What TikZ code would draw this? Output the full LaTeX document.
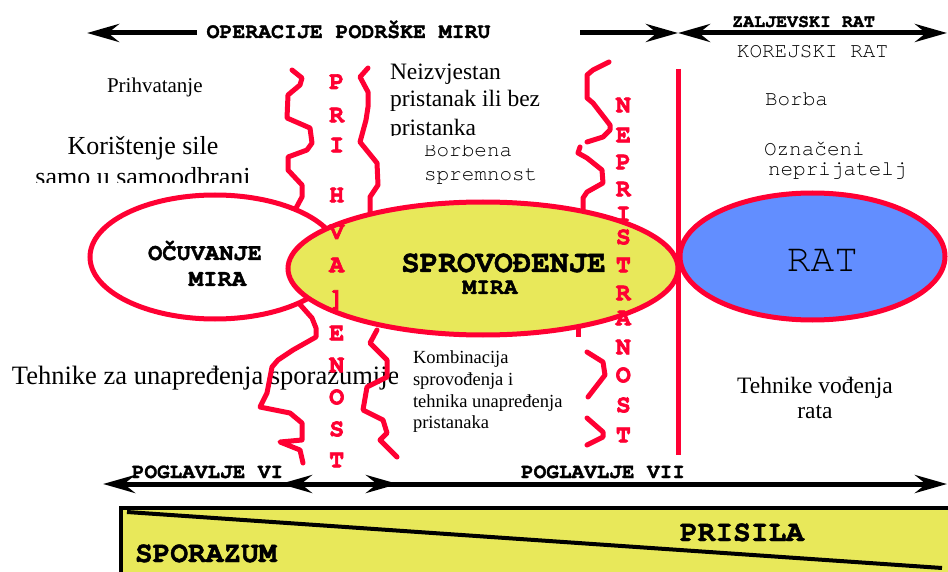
\documentclass[tikz,border=0pt]{standalone}
\usepackage{fontspec}
\setmainfont{Liberation Serif}
\newfontfamily\monofont{texgyrecursor}[Extension=.otf,UprightFont=*-regular,BoldFont=*-bold,BoldFeatures={FakeBold=1.6}]
\newfontfamily\redfont{texgyrecursor}[Extension=.otf,UprightFont=*-bold,UprightFeatures={FakeBold=2.6}]
\usetikzlibrary{arrows.meta,shapes.geometric}
\definecolor{myred}{RGB}{255,0,51}
\definecolor{myyellow}{RGB}{232,232,90}
\definecolor{myblue}{RGB}{98,142,255}
\newcommand{\fs}[1]{\fontsize{#1}{#1}\selectfont}
\begin{document}
\begin{tikzpicture}[x=1pt,y=-1pt,
  lbl/.style={inner sep=0pt,outer sep=0pt},
  serif/.style={lbl,font=\rmfamily},
  mono/.style={lbl,font=\monofont},
  monob/.style={lbl,font=\monofont\bfseries},
  redletter/.style={lbl,font=\redfont\fs{25},text=myred,anchor=center},
  wave/.style={draw=myred,line width=5pt,line join=round,line cap=round},
  ellbox/.style={ellipse,draw=myred,line width=5pt,inner sep=0pt},
  bigarrow/.style={line width=5pt},
  tipL/.style={-{Stealth[length=32pt,width=18pt,inset=11pt]}},
  tipLR/.style={{Stealth[length=32pt,width=18pt,inset=11pt]}-{Stealth[length=32pt,width=18pt,inset=11pt]}}
]
\useasboundingbox (0,0) rectangle (948,572);
\clip (0,0) rectangle (948,572);

% ---- plain texts
\node[serif,anchor=base west,font=\rmfamily\fs{21}] (prih) at (107,93) {Prihvatanje};
\node[serif,anchor=base,font=\rmfamily\fs{26}] (kor) at (143,155) {Korištenje sile};
\begin{scope}
  \clip (0,0) rectangle (380,183);
  \node[serif,anchor=base,font=\rmfamily\fs{26}] (samo) at (143,186) {samo u samoodbrani};
\end{scope}
\node[serif,anchor=base west,font=\rmfamily\fs{23.5}] (neiz1) at (390,80) {Neizvjestan};
\node[serif,anchor=base west,font=\rmfamily\fs{23.5}] (neiz2) at (390,107) {pristanak ili bez};
\begin{scope}
  \clip (380,100) rectangle (560,136);
  \node[serif,anchor=base west,font=\rmfamily\fs{23.5}] (neiz3) at (390,136) {pristanka};
\end{scope}
\begin{scope}
  \clip (400,146) rectangle (570,200);
  \node[mono,anchor=base west,font=\monofont\fs{21}] (borb1) at (424,157) {Borbena};
\end{scope}
\node[mono,anchor=base west,font=\monofont\fs{21}] (borb2) at (424,181) {spremnost};
\node[mono,anchor=base west,font=\monofont\fs{21}] (borba) at (765,106) {Borba};
\node[mono,anchor=base west,font=\monofont\fs{21}] (ozn1) at (764,156) {Označeni};
\node[mono,anchor=base west,font=\monofont\fs{21}] (ozn2) at (768,176) {neprijatelj};
\begin{scope}
  \clip (0,340) rectangle (397,400);
  \node[serif,anchor=base west,font=\rmfamily\fs{26.5}] (tehsp) at (12,384) {Tehnike za unapređenja sporazumije};
\end{scope}
\node[serif,anchor=base west,font=\rmfamily\fs{18.5}] (komb1) at (413,363) {Kombinacija};
\node[serif,anchor=base west,font=\rmfamily\fs{18.5}] (komb2) at (413,385) {sprovođenja i};
\node[serif,anchor=base west,font=\rmfamily\fs{18.5}] (komb3) at (413,407) {tehnika unapređenja};
\node[serif,anchor=base west,font=\rmfamily\fs{18.5}] (komb4) at (413,428) {pristanaka};
\node[serif,anchor=base,font=\rmfamily\fs{23.5}] (tvr1) at (815,393) {Tehnike vođenja};
\node[serif,anchor=base,font=\rmfamily\fs{23.5}] (tvr2) at (815,418) {rata};

% ---- wavy boundaries
\draw[wave] (292,70) -- (302,78) -- (300,85) -- (288,95) -- (287,118) -- (310,128) -- (312,143) -- (307,150) -- (288,157) -- (288,170) -- (302,185) -- (302,197) -- (295,210);
\draw[wave] (296,300) -- (312,318) -- (316,328) -- (316,337) -- (293,350) -- (278,360) -- (272,367) -- (267,393) -- (260,407) -- (290,413) -- (302,423) -- (302,440) -- (280,442) -- (300,450) -- (303,463);
\draw[wave] (368,68) -- (360,77) -- (368,92) -- (368,107) -- (366,120) -- (360,142) -- (377,163) -- (378,185) -- (370,197) -- (370,212);
\draw[wave] (377,330) -- (370,343) -- (387,360) -- (387,377) -- (367,387) -- (363,410) -- (383,420) -- (387,433) -- (380,440) -- (397,457);
\draw[wave] (609,62) -- (593,70) -- (587,75) -- (587,98) -- (593,103) -- (610,125) -- (610,130) -- (603,137) -- (587,142);
\draw[wave] (580,147) -- (578,153) -- (587,158) -- (602,170) -- (603,183) -- (587,192) -- (583,198) -- (583,212);
\draw[wave,line cap=butt] (578,325) -- (578,337);
\draw[wave] (587,352) -- (603,362) -- (605,375) -- (588,397);
\draw[wave] (587,418) -- (603,432) -- (603,437) -- (587,445);

% ---- ellipses
\node[ellbox,fill=white,minimum width=250pt,minimum height=124pt] (ocu) at (215,257) {};
\node[ellbox,fill=myyellow,minimum width=390pt,minimum height=133pt] (spr) at (483,268.5) {};
\node[ellbox,fill=myblue,minimum width=265pt,minimum height=127pt] (rat) at (812.5,256.5) {};

\node[monob,anchor=base,font=\monofont\bfseries\fs{23.7}] (ocu1) at (205,260) {OČUVANJE};
\node[monob,anchor=base,font=\monofont\bfseries\fs{24}] (ocu2) at (217.5,286) {MIRA};
\node[monob,anchor=base,text depth=0pt,font=\monofont\bfseries\fs{31}] (spr1) at (503.5,272) {SPROVOĐENJE};
\node[monob,anchor=base,font=\monofont\bfseries\fs{23}] (spr2) at (490,294) {MIRA};
\node[mono,anchor=base,font=\monofont\fs{39.5}] (rat1) at (822.5,272) {RAT};

% ---- red vertical letters
\node[redletter] (pa) at (336.7,81.7) {P};
\node[redletter] (pb) at (336.7,115) {R};
\node[redletter] (pc) at (336.7,145) {I};
\node[redletter] (pd) at (336.7,195) {H};
\node[redletter] (pe) at (336.7,231.7) {V};
\node[redletter] (pf) at (336.7,265) {A};
\node[redletter] (pg) at (336.7,300) {]};
\node[redletter] (ph) at (336.7,333) {E};
\node[redletter] (pi) at (336.7,365) {N};
\node[redletter] (pj) at (336.7,397) {O};
\node[redletter] (pk) at (336.7,429) {S};
\node[redletter] (pl) at (336.7,460) {T};

\node[redletter] (na) at (623.3,105) {N};
\node[redletter] (nb) at (623.3,135) {E};
\node[redletter] (nc) at (623.3,162) {P};
\node[redletter] (nd) at (623.3,189) {R};
\node[redletter] (ne) at (623.3,214) {I};
\node[redletter] (nf) at (623.3,237) {S};
\node[redletter] (ng) at (623.3,265) {T};
\node[redletter] (nh) at (623.3,293) {R};
\node[redletter] (ni) at (623.3,318) {A};
\node[redletter] (nj) at (623.3,347) {N};
\node[redletter] (nk) at (623.3,375) {O};
\node[redletter] (nl) at (623.3,405) {S};
\node[redletter] (nm) at (623.3,435) {T};

% ---- red vertical line
\coordinate (vtop) at (678,69);
\coordinate (vbot) at (678,455);
\draw[draw=myred,line width=5pt] (vtop) -- (vbot);

% ---- top arrows and labels
\coordinate (t1a) at (197,33);
\coordinate (t1b) at (87,33);
\coordinate (t2a) at (580,33);
\coordinate (t2b) at (678,33);
\coordinate (t3a) at (678,33);
\coordinate (t3b) at (947,33);
\draw[bigarrow,tipL] (t1a) -- (t1b);
\draw[bigarrow,tipL] (t2a) -- (t2b);
\draw[bigarrow,tipLR] (t3a) -- (t3b);
\node[monob,anchor=base,font=\monofont\bfseries\fs{21.5}] (opm) at (348.5,38) {OPERACIJE PODRŠKE MIRU};
\node[monob,anchor=base,font=\monofont\bfseries\fs{18.3}] (zal) at (803.5,27) {ZALJEVSKI RAT};
\node[mono,anchor=base,font=\monofont\fs{21}] (kore) at (812.5,58) {KOREJSKI RAT};

% ---- bottom arrows and labels
\coordinate (b1a) at (103,484);
\coordinate (b1b) at (398,484);
\coordinate (b2a) at (280,484);
\coordinate (b2b) at (947,484);
\draw[bigarrow,tipLR] (b1a) -- (b1b);
\draw[bigarrow,tipLR] (b2a) -- (b2b);
\node[monob,anchor=base,font=\monofont\bfseries\fs{21}] (pg6) at (207.5,478) {POGLAVLJE VI};
\node[monob,anchor=base,font=\monofont\bfseries\fs{21}] (pg7) at (603,478) {POGLAVLJE VII};

% ---- bottom box
\coordinate (boxa) at (121,508);
\coordinate (boxb) at (975,600);
\draw[line width=4pt,fill=myyellow] (boxa) rectangle (boxb);
\coordinate (da) at (127,512);
\coordinate (db) at (942,568);
\draw[line width=4pt] (da) -- (db);
\node[monob,anchor=base west,font=\monofont\bfseries\fs{29.5}] (spor) at (135,562) {SPORAZUM};
\node[monob,anchor=base west,font=\monofont\bfseries\fs{29.5}] (pris) at (680,541) {PRISILA};
\end{tikzpicture}
\end{document}
